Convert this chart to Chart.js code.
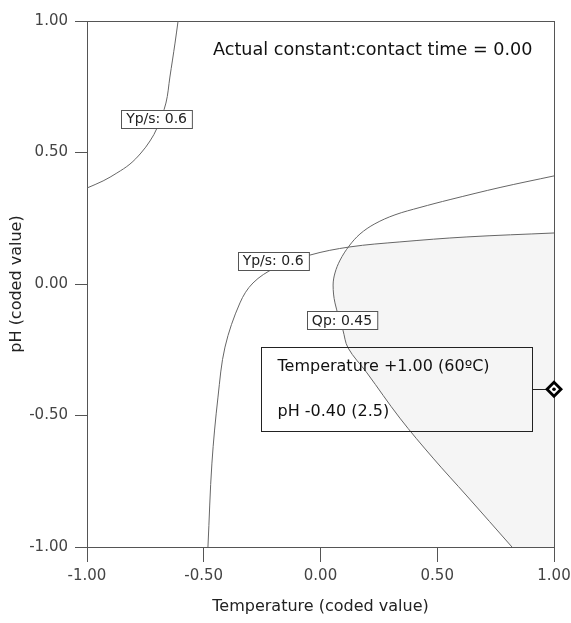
<!DOCTYPE html>
<html>
<head>
<meta charset="utf-8">
<script src="https://cdn.jsdelivr.net/npm/chart.js@4.4.1/dist/chart.umd.min.js"></script>
<style>
  html, body { margin: 0; padding: 0; background: #ffffff; }
  #wrap { width: 571px; height: 623px; position: relative; }
</style>
</head>
<body>
<div id="wrap"><canvas id="c" width="571" height="623"></canvas></div>
<script>
// ---- data ----
const tempTicks = [-1.0, -0.5, 0.0, 0.5, 1.0];
const phTicks = [-1.0, -0.5, 0.0, 0.5, 1.0];

// Yp/s = 0.6 contour (upper-left branch)  [temperature, pH]
const ypsUpper = [[-0.610, 1.000], [-0.623, 0.916], [-0.645, 0.787], [-0.662, 0.688], [-0.700, 0.593],
                  [-0.730, 0.544], [-0.769, 0.498], [-0.816, 0.456], [-0.872, 0.422], [-0.931, 0.392],
                  [-1.000, 0.365]];
// Yp/s = 0.6 contour (lower branch)
const ypsLower = [[-0.482, -1.000], [-0.465, -0.681], [-0.439, -0.430], [-0.409, -0.240], [-0.345, -0.072],
                  [-0.289, 0.004], [-0.195, 0.061], [-0.045, 0.110], [0.126, 0.141], [0.340, 0.160],
                  [0.627, 0.179], [1.000, 0.194]];
// Qp = 0.45 contour
const qpCurve = [[1.000, 0.411], [0.769, 0.367], [0.555, 0.321], [0.426, 0.291], [0.319, 0.263],
                 [0.233, 0.229], [0.169, 0.190], [0.122, 0.144], [0.084, 0.091], [0.062, 0.042],
                 [0.054, -0.004], [0.062, -0.072], [0.096, -0.175], [0.118, -0.243], [0.199, -0.338],
                 [0.340, -0.510], [0.482, -0.662], [0.627, -0.806], [0.820, -1.000]];
// shaded (feasible) region outline
const shadeRegion = [[0.120, 0.143], [0.340, 0.160], [0.627, 0.179], [1.000, 0.194], [1.100, 0.198],
                     [1.100, -1.100], [0.920, -1.100], [0.820, -1.000], [0.627, -0.806], [0.482, -0.662],
                     [0.340, -0.510], [0.199, -0.338], [0.118, -0.243], [0.096, -0.175], [0.062, -0.072],
                     [0.054, -0.004], [0.062, 0.042], [0.084, 0.091], [0.120, 0.143]];
// contour labels (text, temperature, pH)
const contourLabels = [['Yp/s: 0.6', -0.702, 0.629], ['Yp/s: 0.6', -0.203, 0.089], ['Qp: 0.45', 0.092, -0.137]];
// flagged point
const markerPoint = [1.0, -0.40];
const markerText = ['Temperature +1.00 (60ºC)', 'pH -0.40 (2.5)'];
const constantText = 'Actual constant:contact time = 0.00';
const xTitle = 'Temperature (coded value)';
const yTitle = 'pH (coded value)';

const toXY = arr => arr.map(p => ({ x: p[0], y: p[1] }));
const FONT = "'DejaVu Sans', sans-serif";
const AXIS = '#555555';
const LINE = '#666666';

const overlay = {
  id: 'overlay',
  afterDatasetDraw(chart, args) {
    if (args.index !== 0) return;   // right after the shaded region: frame
    const a = chart.chartArea, ctx = chart.ctx;
    ctx.save();
    ctx.strokeStyle = AXIS; ctx.lineWidth = 1;
    ctx.strokeRect(Math.round(a.left) + 0.5, Math.round(a.top) + 0.5,
                   Math.round(a.right - a.left), Math.round(a.bottom - a.top));
    ctx.restore();
  },
  afterDatasetsDraw(chart) {
    const ctx = chart.ctx, a = chart.chartArea;
    const xs = chart.scales.x, ys = chart.scales.y;
    ctx.save();
    // constant text
    ctx.fillStyle = '#111';
    ctx.font = '17.6px ' + FONT;
    ctx.textBaseline = 'middle';
    ctx.textAlign = 'left';
    ctx.fillText(constantText, a.left + 126, a.top + 29);

    // contour labels
    ctx.font = '14px ' + FONT;
    contourLabels.forEach(l => {
      const px = xs.getPixelForValue(l[1]), py = ys.getPixelForValue(l[2]);
      const w = ctx.measureText(l[0]).width + 10, h = 18;
      const x0 = Math.round(px - w / 2) + 0.5, y0 = Math.round(py - h / 2) + 0.5;
      ctx.fillStyle = '#fff';
      ctx.fillRect(x0, y0, w, h);
      ctx.strokeStyle = '#555'; ctx.lineWidth = 1;
      ctx.strokeRect(x0, y0, w, h);
      ctx.fillStyle = '#222';
      ctx.textAlign = 'center';
      ctx.fillText(l[0], px, py + 1);
    });

    // annotation box for flagged point
    const mx = xs.getPixelForValue(markerPoint[0]), my = ys.getPixelForValue(markerPoint[1]);
    const bw = 271, bh = 84;
    const bx = Math.round(mx - 22 - bw) + 0.5, by = Math.round(my - bh / 2) + 0.5;
    ctx.strokeStyle = '#222'; ctx.lineWidth = 1;
    ctx.strokeRect(bx, by, bw, bh);
    ctx.beginPath(); ctx.moveTo(bx + bw, Math.round(my) + 0.5); ctx.lineTo(mx, Math.round(my) + 0.5); ctx.stroke();
    ctx.fillStyle = '#111';
    ctx.font = '16px ' + FONT;
    ctx.textAlign = 'left';
    ctx.fillText(markerText[0], bx + 16, by + 19);
    ctx.fillText(markerText[1], bx + 16, by + 64);

    // diamond marker
    const r = 9;
    ctx.beginPath();
    ctx.moveTo(mx, my - r); ctx.lineTo(mx + r, my); ctx.lineTo(mx, my + r); ctx.lineTo(mx - r, my); ctx.closePath();
    ctx.fillStyle = '#000'; ctx.fill();
    const r2 = 5;
    ctx.beginPath();
    ctx.moveTo(mx, my - r2); ctx.lineTo(mx + r2, my); ctx.lineTo(mx, my + r2); ctx.lineTo(mx - r2, my); ctx.closePath();
    ctx.fillStyle = '#fff'; ctx.fill();
    ctx.beginPath(); ctx.arc(mx, my, 1.8, 0, Math.PI * 2); ctx.fillStyle = '#000'; ctx.fill();
    ctx.restore();
  }
};

const curveStyle = { showLine: true, borderColor: LINE, borderWidth: 1, pointRadius: 0, tension: 0.35, fill: false };

new Chart(document.getElementById('c'), {
  type: 'scatter',
  data: {
    datasets: [
      { label: 'region', data: toXY(shadeRegion), showLine: true, borderWidth: 0, borderColor: 'rgba(0,0,0,0)',
        backgroundColor: '#f5f5f5', fill: 'shape', pointRadius: 0, tension: 0.35, order: 10 },
      Object.assign({ label: 'Yp/s upper', data: toXY(ypsUpper), order: 1 }, curveStyle),
      Object.assign({ label: 'Yp/s lower', data: toXY(ypsLower), order: 1 }, curveStyle),
      Object.assign({ label: 'Qp', data: toXY(qpCurve), order: 1 }, curveStyle)
    ]
  },
  options: {
    responsive: false,
    animation: false,
    events: [],
    layout: { padding: { top: 21, right: 17, left: 0, bottom: 0 } },
    plugins: { legend: { display: false }, tooltip: { enabled: false } },
    scales: {
      x: {
        type: 'linear', min: -1, max: 1,
        afterBuildTicks: s => { s.ticks = tempTicks.map(v => ({ value: v })); },
        afterFit: s => { s.height = 76; s.paddingLeft = 0; s.paddingRight = 0; },
        ticks: { color: '#444', font: { family: FONT, size: 15 }, padding: 5,
                 callback: v => v.toFixed(2) },
        grid: { drawOnChartArea: false, drawTicks: true, tickLength: 15, color: AXIS },
        border: { display: true, color: AXIS },
        title: { display: true, text: xTitle, color: '#222', font: { family: FONT, size: 16 },
                 padding: { top: 0, bottom: 7 } }
      },
      y: {
        type: 'linear', min: -1, max: 1,
        afterBuildTicks: s => { s.ticks = phTicks.map(v => ({ value: v })); },
        afterFit: s => { s.width = 87; s.paddingTop = 0; s.paddingBottom = 0; },
        ticks: { color: '#444', font: { family: FONT, size: 15 }, padding: 7,
                 callback: v => v.toFixed(2) },
        grid: { drawOnChartArea: false, drawTicks: true, tickLength: 12, color: AXIS },
        border: { display: true, color: AXIS },
        title: { display: true, text: yTitle, color: '#222', font: { family: FONT, size: 16 },
                 padding: { top: 7, bottom: 0 } }
      }
    }
  },
  plugins: [overlay]
});
</script>
</body>
</html>
